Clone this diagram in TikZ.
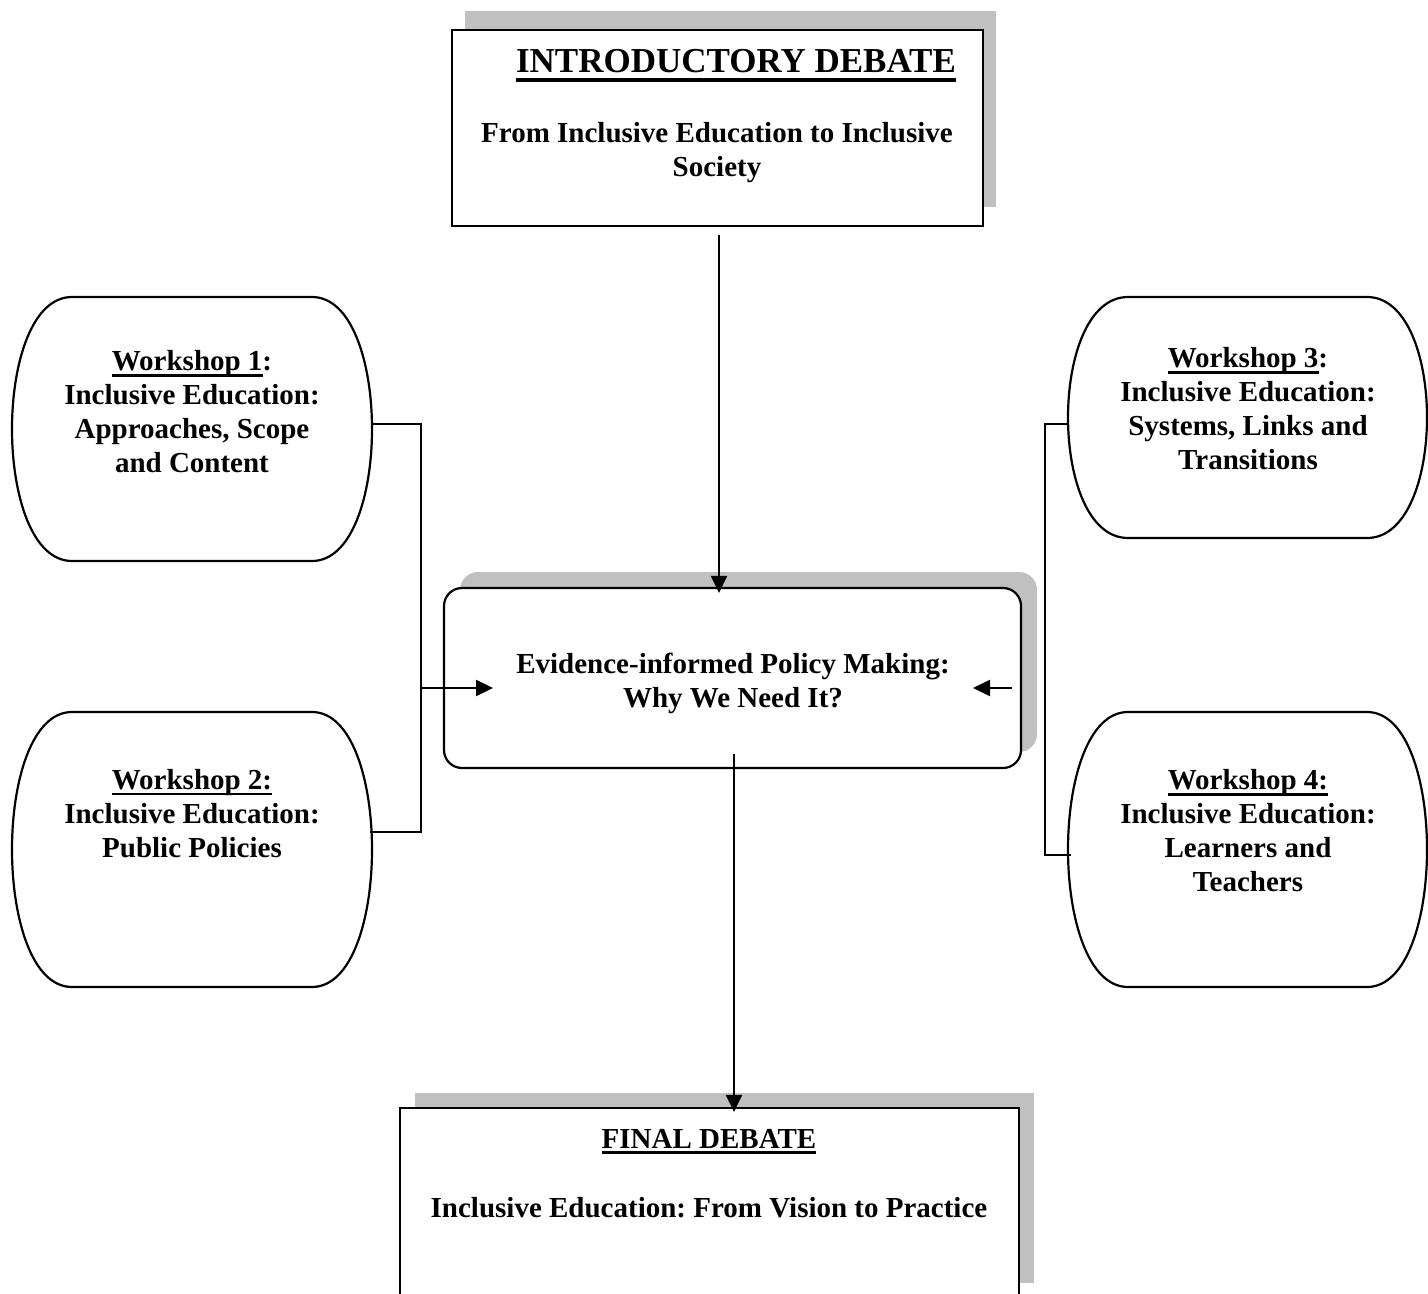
\documentclass[tikz,border=0pt]{standalone}
\usepackage{fontspec}
\setmainfont{Liberation Serif}
\usetikzlibrary{arrows.meta,shadows,calc}
\frenchspacing
\definecolor{shadowgray}{RGB}{192,192,192}
\newcommand{\bodyf}{\fontsize{14.5}{17}\selectfont\bfseries\frenchspacing}
\newcommand{\titlef}{\fontsize{17.5}{20}\selectfont\bfseries\frenchspacing}
\newcommand{\ulb}[1]{\setbox0=\hbox{#1}\leavevmode\rlap{\rule[-2.8pt]{\wd0}{1.3pt}}\box0}
\newcommand{\ult}[1]{\setbox0=\hbox{#1}\leavevmode\rlap{\rule[-4.3pt]{\wd0}{1.8pt}}\box0}
\newcommand{\wkshape}[4]{%
  \draw[shapeline] ({#1+60},#2) -- ({#3-60},#2)
    .. controls ({#3+20},#2) and ({#3+20},#4) .. ({#3-60},#4)
    -- ({#1+60},#4)
    .. controls ({#1-20},#4) and ({#1-20},#2) .. cycle;}
\begin{document}
\begin{tikzpicture}[x=0.5pt,y=-0.5pt,
  shapeline/.style={line width=1.1pt},
  conn/.style={line width=1.1pt},
  arr/.style={line width=1.1pt,-{Triangle[length=8.5pt,width=8pt]}},
  lbl/.style={font=\bodyf,align=center,inner sep=0pt},
  sqbox/.style={draw,line width=1.1pt,fill=white,inner sep=0pt},
]
\useasboundingbox (0,0) rectangle (1428,1294);

% boxes
\node[sqbox,minimum width=265.5pt,minimum height=98pt,
  general shadow={fill=shadowgray,shadow xshift=6.5pt,shadow yshift=9.5pt}]
  (intro) at (717.5,128) {};
\node[sqbox,rounded corners=9pt,minimum width=288.5pt,minimum height=90pt,
  general shadow={fill=shadowgray,shadow xshift=8pt,shadow yshift=8pt}]
  (policy) at (732.5,678) {};
\node[sqbox,minimum width=309.5pt,minimum height=95pt,
  general shadow={fill=shadowgray,shadow xshift=7.5pt,shadow yshift=7.5pt}]
  (final) at (709.5,1203) {};

% workshop shapes
\wkshape{12}{297}{372}{561}
\wkshape{12}{712}{372}{987}
\wkshape{1068}{297}{1427}{538}
\wkshape{1068}{712}{1427}{987}

% texts
\node[lbl,font=\titlef,anchor=base] (introt) at (736,73) {\ult{INTRODUCTORY DEBATE}};
\node[lbl] (introsub) at (717,153) {From Inclusive Education to Inclusive\\Society};
\node[lbl] (policyt) at (733,683) {Evidence-informed Policy Making:\\Why We Need It?};
\node[lbl,anchor=base] (finalt) at (709,1148) {\ulb{FINAL DEBATE}};
\node[lbl,anchor=base] (finalsub) at (709,1217) {Inclusive Education: From Vision to Practice};

\node[lbl] (w1) at (192,412) {\ulb{Workshop 1}:\\Inclusive Education:\\Approaches, Scope\\and Content};
\node[lbl] (w2) at (192,814) {\ulb{Workshop 2:}\\Inclusive Education:\\Public Policies};
\node[lbl] (w3) at (1248,409) {\ulb{Workshop 3}:\\Inclusive Education:\\Systems, Links and\\Transitions};
\node[lbl] (w4) at (1248,831) {\ulb{Workshop 4:}\\Inclusive Education:\\Learners and\\Teachers};

% connector points
\coordinate (a1) at (719,235);
\coordinate (b1) at (734,754);
\coordinate (w1r) at (372,424);
\coordinate (w2r) at (370,832);
\coordinate (lj) at (421,688);
\coordinate (ltip) at (493,688);
\coordinate (w3l) at (1068,424);
\coordinate (w4l) at (1071,855);
\coordinate (rj) at (1012,688);
\coordinate (rtip) at (973,688);

% connectors
\draw[arr] (a1) -- ([yshift=-3pt]a1 |- policy.north);
\draw[arr] (b1) -- ([yshift=-2.5pt]b1 |- final.north);
\draw[conn] (w1r) -- (lj |- w1r) -- (lj |- w2r) -- (w2r);
\draw[arr] (lj) -- (ltip);
\draw[conn] (w3l) -- (1045,424) -- (1045,855) -- (w4l);
\draw[arr] (rj) -- (rtip);
\end{tikzpicture}
\end{document}
